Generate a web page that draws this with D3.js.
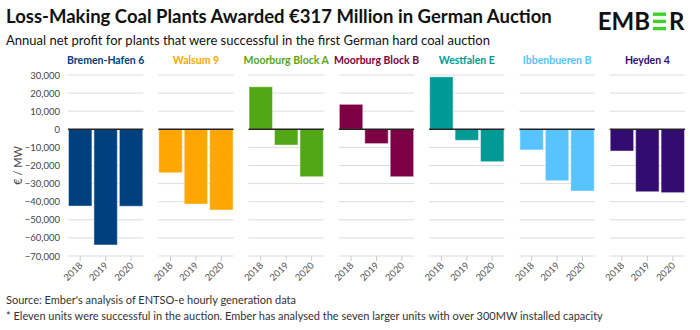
<!DOCTYPE html>
<html>
<head>
<meta charset="utf-8">
<script src="https://cdn.jsdelivr.net/npm/d3@7"></script>
<style>
  body { margin: 0; background: #fff; }
  text { font-family: Lato, "Open Sans", sans-serif; }
</style>
</head>
<body>
<div id="chart"></div>
<script>
// plants and their colours
var plants = ["Bremen-Hafen 6", "Walsum 9", "Moorburg Block A", "Moorburg Block B", "Westfalen E", "Ibbenbueren B", "Heyden 4"];
var colors = ["#00407f", "#ffa600", "#52a717", "#7d0045", "#009a96", "#57c3ff", "#330c72"];
var years = ["2018", "2019", "2020"];

// annual net profit, EUR / MW, per plant for 2018, 2019, 2020
var bremen = [-42400, -63900, -42500];
var walsum = [-24000, -41300, -44600];
var moorburgA = [23500, -8700, -26200];
var moorburgB = [13800, -7900, -26200];
var westfalen = [29000, -6100, -17900];
var ibbenbueren = [-11400, -28400, -34100];
var heyden = [-12000, -34500, -35000];
var values = [bremen, walsum, moorburgA, moorburgB, westfalen, ibbenbueren, heyden];

var yTicks = [30000, 20000, 10000, 0, -10000, -20000, -30000, -40000, -50000, -60000, -70000];

var W = 700, H = 330;
var svg = d3.select("#chart").append("svg")
    .attr("width", W)
    .attr("height", H);

// title block
svg.append("text")
    .attr("x", 6).attr("y", 23)
    .attr("font-size", 18.5).attr("font-weight", 700).attr("fill", "#111")
    .text("Loss-Making Coal Plants Awarded €317 Million in German Auction");
svg.append("text")
    .attr("x", 6).attr("y", 45)
    .attr("font-size", 13).attr("fill", "#111")
    .text("Annual net profit for plants that were successful in the first German hard coal auction");

// logo: "EMB" + green bars for the E + "R"
var logo = svg.append("g").attr("transform", "translate(0,30)");
logo.append("text").attr("x", 650).attr("y", 0)
    .attr("text-anchor", "end")
    .attr("font-size", 24).attr("font-weight", 700).attr("fill", "#111")
    .attr("font-family", "DejaVu Sans")
    .text("EMB");
[0, 1, 2].forEach(function(i) {
    logo.append("rect")
        .attr("x", 653).attr("y", -17.5 + i * 7.2)
        .attr("width", 13).attr("height", 3.4)
        .attr("fill", "#3fd12a");
});
logo.append("text").attr("x", 669).attr("y", 0)
    .attr("font-size", 24).attr("font-weight", 700).attr("fill", "#111")
    .attr("font-family", "DejaVu Sans")
    .text("R");

// scales
var left = 68, right = 685;
var y = d3.scaleLinear().domain([-70000, 30000]).range([256, 75]);
var outer = d3.scaleBand().domain(plants).range([left, right + 15]).paddingInner(0).paddingOuter(0);
var panelW = outer.bandwidth() - 15;
var inner = d3.scaleBand().domain(years).range([0, panelW]).paddingInner(0.08).paddingOuter(0.02);

// y axis labels
svg.append("g")
    .selectAll("text")
    .data(yTicks)
    .enter()
    .append("text")
    .attr("x", 60)
    .attr("y", function(d) { return y(d) + 3.5; })
    .attr("text-anchor", "end")
    .attr("font-size", 9.5)
    .attr("fill", "#444")
    .text(function(d) { return d3.format(",")(d); });

svg.append("text")
    .attr("transform", "translate(22," + y(-20000) + ") rotate(-90)")
    .attr("text-anchor", "middle")
    .attr("font-size", 11)
    .attr("fill", "#444")
    .text("€ / MW");

// panels
plants.forEach(function(plant, p) {
    var g = svg.append("g").attr("transform", "translate(" + outer(plant) + ",0)");

    g.selectAll("line.grid")
        .data(yTicks.filter(function(d) { return d !== 0; }))
        .enter()
        .append("line")
        .attr("class", "grid")
        .attr("x1", 0).attr("x2", panelW)
        .attr("y1", function(d) { return y(d); })
        .attr("y2", function(d) { return y(d); })
        .attr("stroke", "#dcdcdc")
        .attr("stroke-width", 1);

    g.append("text")
        .attr("x", panelW / 2).attr("y", 64)
        .attr("text-anchor", "middle")
        .attr("font-size", 10.5)
        .attr("font-weight", 700)
        .attr("fill", colors[p])
        .text(plant);

    g.selectAll("rect")
        .data(values[p])
        .enter()
        .append("rect")
        .attr("x", function(d, i) { return inner(years[i]); })
        .attr("y", function(d) { return y(Math.max(0, d)); })
        .attr("width", inner.bandwidth())
        .attr("height", function(d) { return Math.abs(y(d) - y(0)); })
        .attr("fill", colors[p])
        .attr("stroke", "#fff")
        .attr("stroke-opacity", 0.45)
        .attr("stroke-width", 1);

    g.append("line")
        .attr("x1", 0).attr("x2", panelW)
        .attr("y1", y(0)).attr("y2", y(0))
        .attr("stroke", "#222")
        .attr("stroke-width", 1.5);

    // x ticks
    years.forEach(function(yr) {
        var cx = inner(yr) + inner.bandwidth() / 2;
        g.append("line")
            .attr("x1", cx).attr("x2", cx)
            .attr("y1", y(-70000)).attr("y2", y(-70000) + 5)
            .attr("stroke", "#ccc");
        g.append("text")
            .attr("transform", "translate(" + (cx + 3) + "," + (y(-70000) + 10) + ") rotate(-45)")
            .attr("text-anchor", "end")
            .attr("font-size", 9.5)
            .attr("fill", "#555")
            .text(yr);
    });
});

// footer
svg.append("text")
    .attr("x", 6).attr("y", 304)
    .attr("font-size", 11).attr("fill", "#333")
    .text("Source: Ember's analysis of ENTSO-e hourly generation data");
svg.append("text")
    .attr("x", 6).attr("y", 320)
    .attr("font-size", 11).attr("fill", "#333")
    .text("* Eleven units were successful in the auction. Ember has analysed the seven larger units with over 300MW installed capacity");
</script>
</body>
</html>
